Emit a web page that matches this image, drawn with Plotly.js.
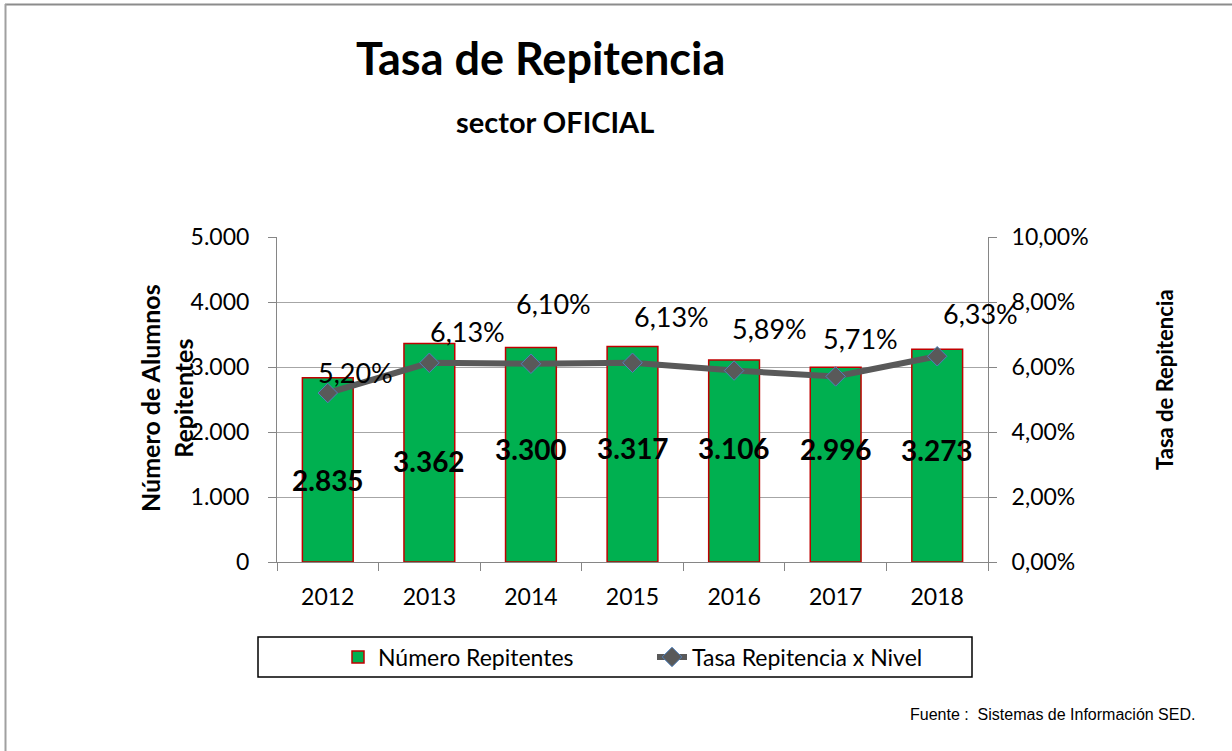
<!DOCTYPE html>
<html>
<head>
<meta charset="utf-8">
<script src="https://cdn.plot.ly/plotly-3.0.1.min.js"></script>
<style>
  html, body { margin: 0; padding: 0; background: #ffffff; }
  #chart { width: 1232px; height: 751px; }
</style>
</head>
<body>
<div id="chart"></div>
<script>
// ---- data ----
const years = ['2012', '2013', '2014', '2015', '2016', '2017', '2018'];
const repitentes = [2835, 3362, 3300, 3317, 3106, 2996, 3273];
const tasa = [0.0520, 0.0613, 0.0610, 0.0613, 0.0589, 0.0571, 0.0633];
const tasaLabels = ['5,20%', '6,13%', '6,10%', '6,13%', '5,89%', '5,71%', '6,33%'];
const repLabels = ['2.835', '3.362', '3.300', '3.317', '3.106', '2.996', '3.273'];
const yTickVals = [0, 1000, 2000, 3000, 4000, 5000];
const yTickText = ['0', '1.000', '2.000', '3.000', '4.000', '5.000'];
const y2TickVals = [0, 0.02, 0.04, 0.06, 0.08, 0.10];
const y2TickText = ['0,00%', '2,00%', '4,00%', '6,00%', '8,00%', '10,00%'];

// label offsets (pixels), as the labels were moved by hand in the original
const pctShiftX = [28, 38, 23, 39, 35, 25, 43];
const pctShiftY = [21, 31, 60, 46, 42, 38, 43];
const barLabelShiftY = [-10, -8, 6, 6, 13, 16, 6];

// ---- geometry helpers ----
const W = 1232, H = 751;
const M = { l: 277, r: 244, t: 237, b: 189 };
const PW = W - M.l - M.r, PH = H - M.t - M.b;
const px = v => (v - M.l) / PW;
const py = v => (H - M.b - v) / PH;

const FONT = 'Lato, Carlito, "Open Sans", sans-serif';

const barTrace = {
  type: 'bar',
  name: 'Número Repitentes',
  x: years,
  y: repitentes,
  marker: { color: '#00b050', line: { color: '#c00000', width: 1.5 } },
  hoverinfo: 'x+y'
};

const lineTrace = {
  type: 'scatter',
  mode: 'lines+markers',
  name: 'Tasa Repitencia x Nivel',
  x: years,
  y: tasa,
  yaxis: 'y2',
  line: { color: '#595959', width: 6 },
  marker: { symbol: 'diamond', size: 15, color: '#595959', line: { color: '#4f81bd', width: 1 } }
};

const annotations = [
  { text: '<b>Tasa de Repitencia</b>', xref: 'paper', yref: 'paper', x: px(540), y: py(58),
    xanchor: 'center', yanchor: 'middle', showarrow: false, font: { family: FONT, size: 45, color: '#000' } },
  { text: '<b>sector OFICIAL</b>', xref: 'paper', yref: 'paper', x: px(555), y: py(121),
    xanchor: 'center', yanchor: 'middle', showarrow: false, font: { family: FONT, size: 29, color: '#000' } },
  { text: '<b>Número de Alumnos<br>Repitentes</b>', xref: 'paper', yref: 'paper', x: px(166), y: py(398),
    xanchor: 'center', yanchor: 'middle', textangle: -90, showarrow: false,
    font: { family: FONT, size: 25, color: '#000' } },
  { text: '<b>Tasa de Repitencia</b>', xref: 'paper', yref: 'paper', x: px(1164), y: py(380),
    xanchor: 'center', yanchor: 'middle', textangle: -90, showarrow: false,
    font: { family: FONT, size: 22, color: '#000' } },
  { text: 'Fuente :  Sistemas de Información SED.', xref: 'paper', yref: 'paper', x: px(1197), y: py(714),
    xanchor: 'right', yanchor: 'middle', showarrow: false,
    font: { family: '"Liberation Sans", Arial, sans-serif', size: 16, color: '#000' } }
];

years.forEach((yr, i) => {
  annotations.push({
    text: '<b>' + repLabels[i] + '</b>', xref: 'x', yref: 'y', x: i, y: repitentes[i] / 2,
    yshift: barLabelShiftY[i], showarrow: false,
    xanchor: 'center', yanchor: 'middle',
    font: { family: FONT, size: 28, color: '#000' }
  });
  annotations.push({
    text: tasaLabels[i], xref: 'x', yref: 'y2', x: i, y: tasa[i],
    xshift: pctShiftX[i], yshift: pctShiftY[i], showarrow: false,
    xanchor: 'center', yanchor: 'middle',
    font: { family: FONT, size: 27, color: '#000' }
  });
});

const shapes = [
  // outer frame (only top and left edges visible in the original)
  { type: 'line', xref: 'paper', yref: 'paper', x0: px(5), x1: px(1240), y0: py(4.5), y1: py(4.5),
    line: { color: '#8c8c8c', width: 2 } },
  { type: 'line', xref: 'paper', yref: 'paper', x0: px(5.5), x1: px(5.5), y0: py(4), y1: py(760),
    line: { color: '#a0a0a0', width: 2 } },
  // legend box
  { type: 'rect', xref: 'paper', yref: 'paper', x0: px(258), x1: px(972), y0: py(637), y1: py(677),
    line: { color: '#000000', width: 1.5 }, fillcolor: 'rgba(0,0,0,0)' }
];

const layout = {
  width: W, height: H,
  margin: M,
  paper_bgcolor: '#ffffff',
  plot_bgcolor: '#ffffff',
  font: { family: FONT, color: '#000000' },
  showlegend: true,
  bargap: 0.5,
  xaxis: {
    type: 'category',
    range: [-0.5, years.length - 0.5],
    showline: true, linecolor: '#868686', linewidth: 1,
    ticks: 'outside', tickfont: { family: FONT, size: 23, color: '#000' },
    tickangle: 0, ticklabelstandoff: 14,
    showgrid: false, zeroline: false,
    tickson: 'boundaries', ticklen: 8, tickcolor: '#868686',
    fixedrange: true
  },
  yaxis: {
    range: [0, 5000], tickvals: yTickVals, ticktext: yTickText,
    showline: true, linecolor: '#868686', linewidth: 1,
    ticks: 'outside', ticklen: 8, tickcolor: '#868686',
    showgrid: true, gridcolor: '#a6a6a6', gridwidth: 1,
    zeroline: false, ticklabelstandoff: 14,
    tickfont: { family: FONT, size: 23, color: '#000' },
    fixedrange: true
  },
  yaxis2: {
    overlaying: 'y', side: 'right',
    range: [0, 0.10], tickvals: y2TickVals, ticktext: y2TickText,
    showline: true, linecolor: '#868686', linewidth: 1,
    ticks: 'outside', ticklen: 8, tickcolor: '#868686',
    showgrid: false, zeroline: false, ticklabelstandoff: 10,
    tickfont: { family: FONT, size: 23, color: '#000' },
    fixedrange: true
  },
  legend: {
    orientation: 'h',
    x: px(652), xanchor: 'center',
    y: py(657), yanchor: 'middle',
    font: { family: FONT, size: 23, color: '#000' },
    bgcolor: 'rgba(0,0,0,0)',
    borderwidth: 0,
    entrywidth: 269, entrywidthmode: 'pixels'
  },
  annotations: annotations,
  shapes: shapes
};

Plotly.newPlot('chart', [barTrace, lineTrace], layout, { displayModeBar: false, staticPlot: true });
</script>
</body>
</html>
